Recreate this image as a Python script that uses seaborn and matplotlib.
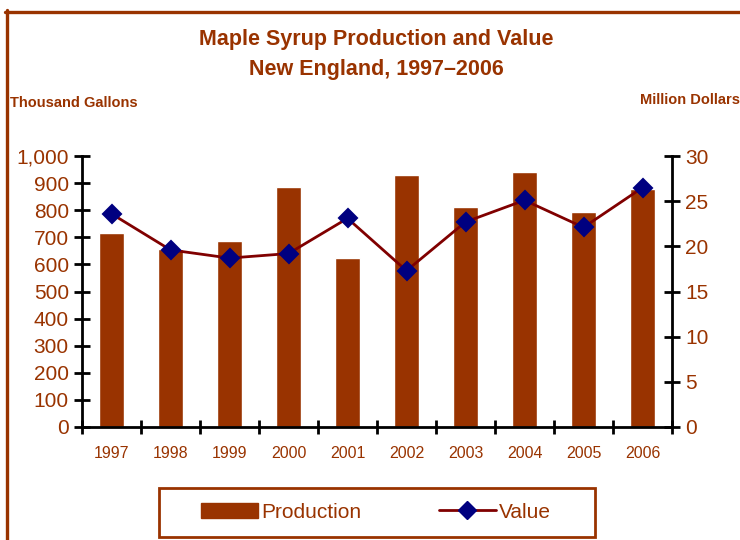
import numpy as np
import pandas as pd
import matplotlib
matplotlib.use('Agg')
import matplotlib.pyplot as plt
import seaborn as sns
from matplotlib.patches import Patch, Rectangle
from matplotlib.lines import Line2D

# chart data
years = ['1997', '1998', '1999', '2000', '2001', '2002', '2003', '2004', '2005', '2006']
production = [717, 656, 687, 887, 625, 930, 813, 940, 792, 877]   # thousand gallons
value = [23.6, 19.6, 18.7, 19.2, 23.1, 17.3, 22.7, 25.1, 22.1, 26.5]  # million dollars

brown = '#993300'
line_col = '#800000'
marker_col = '#000080'

sns.set_style('white')
plt.rcParams['font.family'] = ['Liberation Sans', 'DejaVu Sans']
narrow = ['Liberation Sans Narrow', 'Liberation Sans', 'DejaVu Sans']

df = pd.DataFrame({'Year': years, 'Production': production, 'Value': value})

fig = plt.figure(figsize=(7.4, 5.4), dpi=100)
ax = fig.add_axes([82 / 740, 1 - 427 / 540, 590 / 740, 271 / 540])

sns.barplot(data=df, x='Year', y='Production', color=brown, saturation=1,
            width=0.43, ax=ax)
ax.set_ylim(0, 1000)
ax.set_xlim(-0.5, len(years) - 0.5)
ax.set_yticks(np.arange(0, 1001, 100))
ax.set_yticklabels([f'{v:,}' for v in range(0, 1001, 100)])
ax.set_xlabel('')
ax.set_ylabel('')

ax2 = ax.twinx()
sns.pointplot(data=df, x='Year', y='Value', color=line_col, markers='D',
              linestyles='-', markersize=9, linewidth=2, ax=ax2)
for coll in ax2.collections:
    coll.set_facecolor(marker_col)
    coll.set_edgecolor(marker_col)
for ln in ax2.lines:
    ln.set_markerfacecolor(marker_col)
    ln.set_markeredgecolor(marker_col)
ax2.set_ylim(0, 30)
ax2.set_xlim(-0.5, len(years) - 0.5)
ax2.set_yticks(np.arange(0, 31, 5))
ax2.set_ylabel('')

for a in (ax, ax2):
    for s in a.spines.values():
        s.set_visible(False)
ax.spines['left'].set_visible(True)
ax.spines['bottom'].set_visible(True)
ax2.spines['right'].set_visible(True)
for s in (ax.spines['left'], ax.spines['bottom'], ax2.spines['right']):
    s.set_color('black')
    s.set_linewidth(2)

ax.tick_params(axis='y', direction='inout', length=11, width=2, color='black',
               labelsize=15, labelcolor=brown, pad=4, left=True)
ax2.tick_params(axis='y', direction='inout', length=11, width=2, color='black',
                labelsize=15, labelcolor=brown, pad=4, right=True)
ax.tick_params(axis='x', which='major', length=0, labelsize=11.5,
               labelcolor=brown, pad=14)
ax.set_xticks(np.arange(-0.5, len(years), 1), minor=True)
ax.tick_params(axis='x', which='minor', direction='inout', length=10,
               width=2, color='black', bottom=True)

# titles and axis captions
fig.text(0.508, 1 - 40 / 540, 'Maple Syrup Production and Value',
         ha='center', va='center', fontsize=15.5, fontweight='bold',
         color=brown, family=narrow)
fig.text(0.508, 1 - 70 / 540, 'New England, 1997\u20132006',
         ha='center', va='center', fontsize=15.5, fontweight='bold',
         color=brown, family=narrow)
fig.text(10 / 740, 1 - 103 / 540, 'Thousand Gallons', ha='left', va='center',
         fontsize=10.5, fontweight='bold', color=brown, family=narrow)
fig.text(740 / 740, 1 - 100 / 540, 'Million Dollars', ha='right', va='center',
         fontsize=10.5, fontweight='bold', color=brown, family=narrow)

# legend with its own box
handles = [Patch(facecolor=brown, edgecolor=brown),
           Line2D([0], [0], color=line_col, lw=2, marker='D',
                  markerfacecolor=marker_col, markeredgecolor=marker_col,
                  markersize=9)]
leg = fig.legend(handles, ['Production', 'Value'], loc='center',
                 bbox_to_anchor=(376 / 740, 1 - 512 / 540), ncol=2,
                 frameon=False, fontsize=15,
                 handlelength=2.75, handletextpad=0.15, columnspacing=3.7,
                 borderpad=0, borderaxespad=0)
for t in leg.get_texts():
    t.set_color(brown)
fig.add_artist(Rectangle((159 / 740, 1 - 537 / 540), 436 / 740, 49 / 540,
                         transform=fig.transFigure, fill=False,
                         edgecolor=brown, lw=2))

# page border on left and top
fig.add_artist(Line2D([6.5 / 740, 6.5 / 740], [0, 1 - 10 / 540],
                      transform=fig.transFigure, color=brown, lw=2.4))
fig.add_artist(Line2D([5 / 740, 1], [1 - 11.5 / 540, 1 - 11.5 / 540],
                      transform=fig.transFigure, color=brown, lw=2.4))

fig.savefig('out.png', dpi=100)
